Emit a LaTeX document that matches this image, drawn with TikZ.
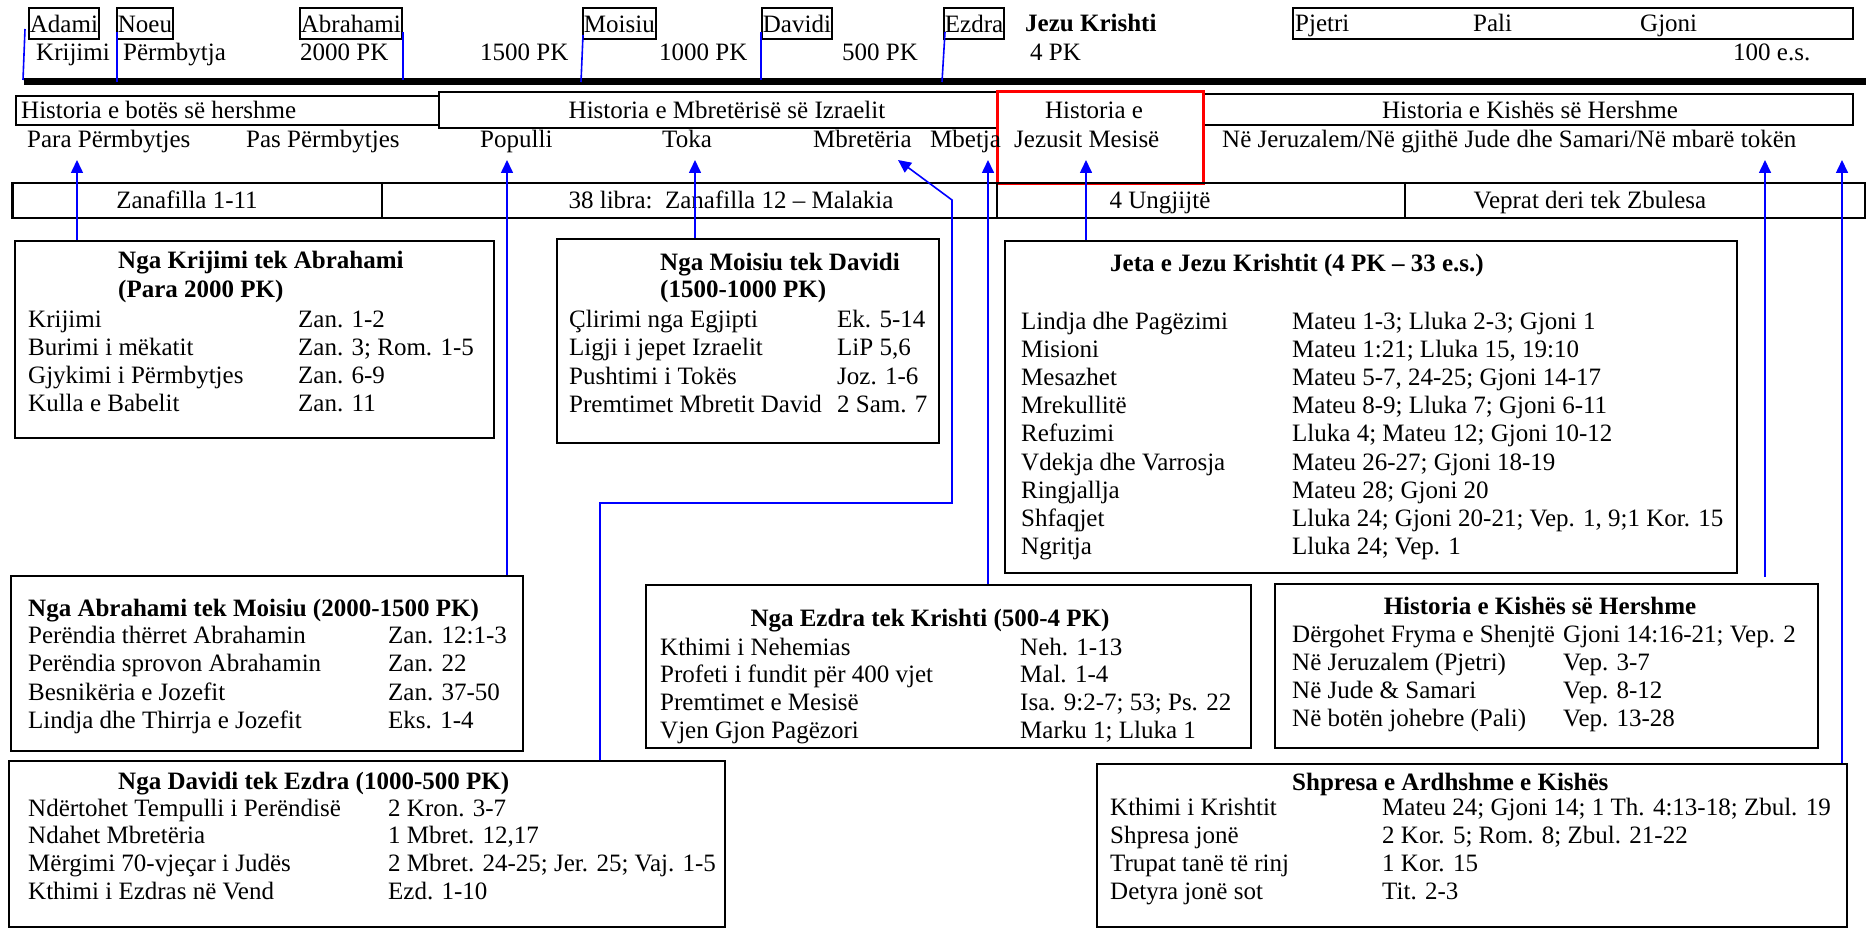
\documentclass[tikz,border=0pt]{standalone}
\usepackage{fontspec}
\setmainfont{Liberation Serif}
\usetikzlibrary{arrows.meta}
\newcommand\rw[6]{\node[tx] (#6l) at (#1,#3) {#4}; \node[tx] (#6r) at (#2,#3) {#5};}
\begin{document}
\begin{tikzpicture}[x=1pt,y=-1pt,font=\fontsize{25}{28.2}\selectfont,
  tx/.style={inner sep=0pt, anchor=base west},
  tc/.style={inner sep=0pt, anchor=base},
  bx/.style={draw, line width=2pt, inner sep=0pt, anchor=north west},
  namebox/.style={draw, line width=1.8pt, inner xsep=1pt, inner ysep=3pt, text height=22pt, text depth=3pt, anchor=north west},
  bl/.style={draw=blue, line width=1.6pt},
  arr/.style={bl, -{Triangle[length=13pt,width=12pt]}, blue}]
\useasboundingbox (0,0) rectangle (1866,928);
\fill[white] (0,0) rectangle (1866,928);

% ---- top timeline ----
\node[namebox] (adami) at (28,7) {Adami};
\node[namebox] (noeu) at (116,7) {Noeu};
\node[namebox] (abrahami) at (299,7) {Abrahami};
\node[namebox] (moisiu) at (582,7) {Moisiu};
\node[namebox] (davidi) at (761,7) {Davidi};
\node[namebox] (ezdra) at (943,7) {Ezdra};
\node[tx] (jezu) at (1025,32) {\textbf{Jezu Krishti}};
\node[bx, minimum width=560pt, minimum height=31pt, line width=1.8pt] (apost) at (1292,7) {};
\node[tx] (pjetri) at (1295,32) {Pjetri};
\node[tx] (pali) at (1473,32) {Pali};
\node[tx] (gjoni) at (1640,32) {Gjoni};

\node[tx] (d1) at (36,61) {Krijimi};
\node[tx] (d2) at (123,61) {Përmbytja};
\node[tx] (d3) at (300,61) {2000 PK};
\node[tx] (d4) at (480,61) {1500 PK};
\node[tx] (d5) at (659,61) {1000 PK};
\node[tx] (d6) at (842,61) {500 PK};
\node[tx] (d7) at (1030,61) {4 PK};
\node[tx] (d8) at (1733,61) {100 e.s.};

\node[fill=black, inner sep=0pt, minimum width=1842pt, minimum height=7pt, anchor=north west] (bar) at (24,78) {};

\coordinate (k1a) at (25,29); \coordinate (k1b) at (23,80);
\coordinate (k2a) at (117,32); \coordinate (k2b) at (117,82);
\coordinate (k3a) at (403,32); \coordinate (k3b) at (403,80);
\coordinate (k4a) at (583,35); \coordinate (k4b) at (581,82);
\coordinate (k5a) at (761,32); \coordinate (k5b) at (761,80);
\coordinate (k6a) at (945,32); \coordinate (k6b) at (942,82);
\foreach \i in {1,...,6} {\draw[bl] (k\i a) -- (k\i b);}

% ---- history row ----
\node[bx, line width=1.6pt, minimum width=423pt, minimum height=29pt] (h1) at (15,95) {};
\node[bx, line width=1.6pt, minimum width=558pt, minimum height=36pt] (h2) at (438,91) {};
\node[bx, line width=1.6pt, minimum width=650pt, minimum height=31pt] (h3) at (1202,93) {};
\node[bx, draw=red, line width=3pt, minimum width=206pt, minimum height=92pt] (red) at (996,90) {};
\node[tx] (h1t) at (21,119) {Historia e botës së hershme};
\node[tc] (h2t) at (727,119) {Historia e Mbretërisë së Izraelit};
\node[tc] (h4t) at (1094,119) {Historia e};
\node[tc] (h3t) at (1530,119) {Historia e Kishës së Hershme};

\node[tx] (p1) at (27,148) {Para Përmbytjes};
\node[tx] (p2) at (246,148) {Pas Përmbytjes};
\node[tx] (p3) at (480,148) {Populli};
\node[tx] (p4) at (662,148) {Toka};
\node[tx] (p5) at (813,148) {Mbretëria};
\node[tx] (p6) at (930,148) {Mbetja};
\node[tx] (p7) at (1014,148) {Jezusit Mesisë};
\node[tx] (p8) at (1222,148) {Në Jeruzalem/Në gjithë Jude dhe Samari/Në mbarë tokën};

% ---- books bar ----
\node[bx, line width=2.5pt, minimum width=1853pt, minimum height=35pt] (books) at (11,182) {};
\coordinate (v1) at (382,182); \coordinate (v2) at (997,182); \coordinate (v3) at (1405,182);
\draw[line width=1.3pt] (v1) -- (v1 |- books.south);
\draw[line width=1.3pt] (v2) -- (v2 |- books.south);
\draw[line width=1.3pt] (v3) -- (v3 |- books.south);
\node[tc] (b1) at (187,209) {Zanafilla 1-11};
\node[tc] (b2) at (731,209) {38 libra:\ \ Zanafilla 12 – Malakia};
\node[tc] (b3) at (1160,209) {4 Ungjijtë};
\node[tc] (b4) at (1590,209) {Veprat deri tek Zbulesa};

% ---- boxes ----
\node[bx, minimum width=479pt, minimum height=197pt] (bA) at (14,240) {};
\node[bx, minimum width=382pt, minimum height=204pt] (bB) at (556,238) {};
\node[bx, minimum width=732pt, minimum height=332pt] (bC) at (1004,240) {};
\node[bx, minimum width=512pt, minimum height=175pt] (bD) at (10,575) {};
\node[bx, minimum width=716pt, minimum height=166pt] (bE) at (8,760) {};
\node[bx, minimum width=605pt, minimum height=163pt] (bF) at (645,584) {};
\node[bx, minimum width=543pt, minimum height=164pt] (bG) at (1274,583) {};
\node[bx, minimum width=750pt, minimum height=163pt] (bH) at (1096,763) {};

% Box A
\node[tx] (aT1) at (118,269) {\textbf{Nga Krijimi tek Abrahami}};
\node[tx] (aT2) at (118,297) {\textbf{(Para 2000 PK)}};
\rw{28}{298}{327}{Krijimi}{Zan. 1-2}{a1}
\rw{28}{298}{355}{Burimi i mëkatit}{Zan. 3; Rom. 1-5}{a2}
\rw{28}{298}{383}{Gjykimi i Përmbytjes}{Zan. 6-9}{a3}
\rw{28}{298}{411}{Kulla e Babelit}{Zan. 11}{a4}

% Box B
\node[tx] (bT1) at (660,270) {\textbf{Nga Moisiu tek Davidi}};
\node[tx] (bT2) at (660,297) {\textbf{(1500-1000 PK)}};
\rw{569}{837}{327}{Çlirimi nga Egjipti}{Ek. 5-14}{b1}
\rw{569}{837}{355}{Ligji i jepet Izraelit}{LiP 5,6}{b2}
\rw{569}{837}{384}{Pushtimi i Tokës}{Joz. 1-6}{b3}
\rw{569}{837}{412}{Premtimet Mbretit David}{2 Sam. 7}{b4}

% Box C
\node[tx] (cT) at (1110,271) {\textbf{Jeta e Jezu Krishtit (4 PK – 33 e.s.)}};
\rw{1021}{1292}{329}{Lindja dhe Pagëzimi}{Mateu 1-3; Lluka 2-3; Gjoni 1}{c1}
\rw{1021}{1292}{357.2}{Misioni}{Mateu 1:21; Lluka 15, 19:10}{c2}
\rw{1021}{1292}{385.4}{Mesazhet}{Mateu 5-7, 24-25; Gjoni 14-17}{c3}
\rw{1021}{1292}{413.6}{Mrekullitë}{Mateu 8-9; Lluka 7; Gjoni 6-11}{c4}
\rw{1021}{1292}{441.8}{Refuzimi}{Lluka 4; Mateu 12; Gjoni 10-12}{c5}
\rw{1021}{1292}{470}{Vdekja dhe Varrosja}{Mateu 26-27; Gjoni 18-19}{c6}
\rw{1021}{1292}{498.2}{Ringjallja}{Mateu 28; Gjoni 20}{c7}
\rw{1021}{1292}{526.4}{Shfaqjet}{Lluka 24; Gjoni 20-21; Vep. 1, 9;1 Kor. 15}{c8}
\rw{1021}{1292}{554.6}{Ngritja}{Lluka 24; Vep. 1}{c9}

% Box D
\node[tx] (dT) at (28,616) {\textbf{Nga Abrahami tek Moisiu (2000-1500 PK)}};
\rw{28}{388}{643}{Perëndia thërret Abrahamin}{Zan. 12:1-3}{e1}
\rw{28}{388}{671}{Perëndia sprovon Abrahamin}{Zan. 22}{e2}
\rw{28}{388}{700}{Besnikëria e Jozefit}{Zan. 37-50}{e3}
\rw{28}{388}{728}{Lindja dhe Thirrja e Jozefit}{Eks. 1-4}{e4}

% Box E
\node[tx] (eT) at (118,789) {\textbf{Nga Davidi tek Ezdra (1000-500 PK)}};
\rw{28}{388}{816}{Ndërtohet Tempulli i Perëndisë}{2 Kron. 3-7}{f1}
\rw{28}{388}{843}{Ndahet Mbretëria}{1 Mbret. 12,17}{f2}
\rw{28}{388}{871}{Mërgimi 70-vjeçar i Judës}{2 Mbret. 24-25; Jer. 25; Vaj. 1-5}{f3}
\rw{28}{388}{899}{Kthimi i Ezdras në Vend}{Ezd. 1-10}{f4}

% Box F
\node[tc] (fT) at (930,626) {\textbf{Nga Ezdra tek Krishti (500-4 PK)}};
\rw{660}{1020}{655}{Kthimi i Nehemias}{Neh. 1-13}{g1}
\rw{660}{1020}{682}{Profeti i fundit për 400 vjet}{Mal. 1-4}{g2}
\rw{660}{1020}{710}{Premtimet e Mesisë}{Isa. 9:2-7; 53; Ps. 22}{g3}
\rw{660}{1020}{738}{Vjen Gjon Pagëzori}{Marku 1; Lluka 1}{g4}

% Box G
\node[tc] (gT) at (1540,614) {\textbf{Historia e Kishës së Hershme}};
\rw{1292}{1563}{642}{Dërgohet Fryma e Shenjtë}{Gjoni 14:16-21; Vep. 2}{i1}
\rw{1292}{1563}{670}{Në Jeruzalem (Pjetri)}{Vep. 3-7}{i2}
\rw{1292}{1563}{698}{Në Jude \& Samari}{Vep. 8-12}{i3}
\rw{1292}{1563}{726}{Në botën johebre (Pali)}{Vep. 13-28}{i4}

% Box H
\node[tx] (hT) at (1292,790) {\textbf{Shpresa e Ardhshme e Kishës}};
\rw{1110}{1382}{815}{Kthimi i Krishtit}{Mateu 24; Gjoni 14; 1 Th. 4:13-18; Zbul. 19}{j1}
\rw{1110}{1382}{843}{Shpresa jonë}{2 Kor. 5; Rom. 8; Zbul. 21-22}{j2}
\rw{1110}{1382}{871}{Trupat tanë të rinj}{1 Kor. 15}{j3}
\rw{1110}{1382}{899}{Detyra jonë sot}{Tit. 2-3}{j4}

% ---- arrows ----
\coordinate (t1) at (77,160);
\coordinate (t2) at (507,160);
\coordinate (t3) at (695,160);
\coordinate (t4) at (898,160);
\coordinate (t5) at (988,160);
\coordinate (t6) at (1086,160);
\coordinate (t7) at (1765,160);
\coordinate (t8) at (1842,160);
\coordinate (m1) at (600,503);
\coordinate (m2) at (952,503);
\coordinate (m3) at (952,200);
\coordinate (e7) at (1765,577);
\draw[arr] (bA.north -| t1) -- (t1);
\draw[arr] (bD.north -| t2) -- (t2);
\draw[arr] (bB.north -| t3) -- (t3);
\draw[arr] (bE.north -| m1) -- (m1) -- (m2) -- (m3) -- (t4);
\draw[arr] (bF.north -| t5) -- (t5);
\draw[arr] (bC.north -| t6) -- (t6);
\draw[arr] (e7) -- (t7);
\draw[arr] (bH.north -| t8) -- (t8);
\end{tikzpicture}
\end{document}
